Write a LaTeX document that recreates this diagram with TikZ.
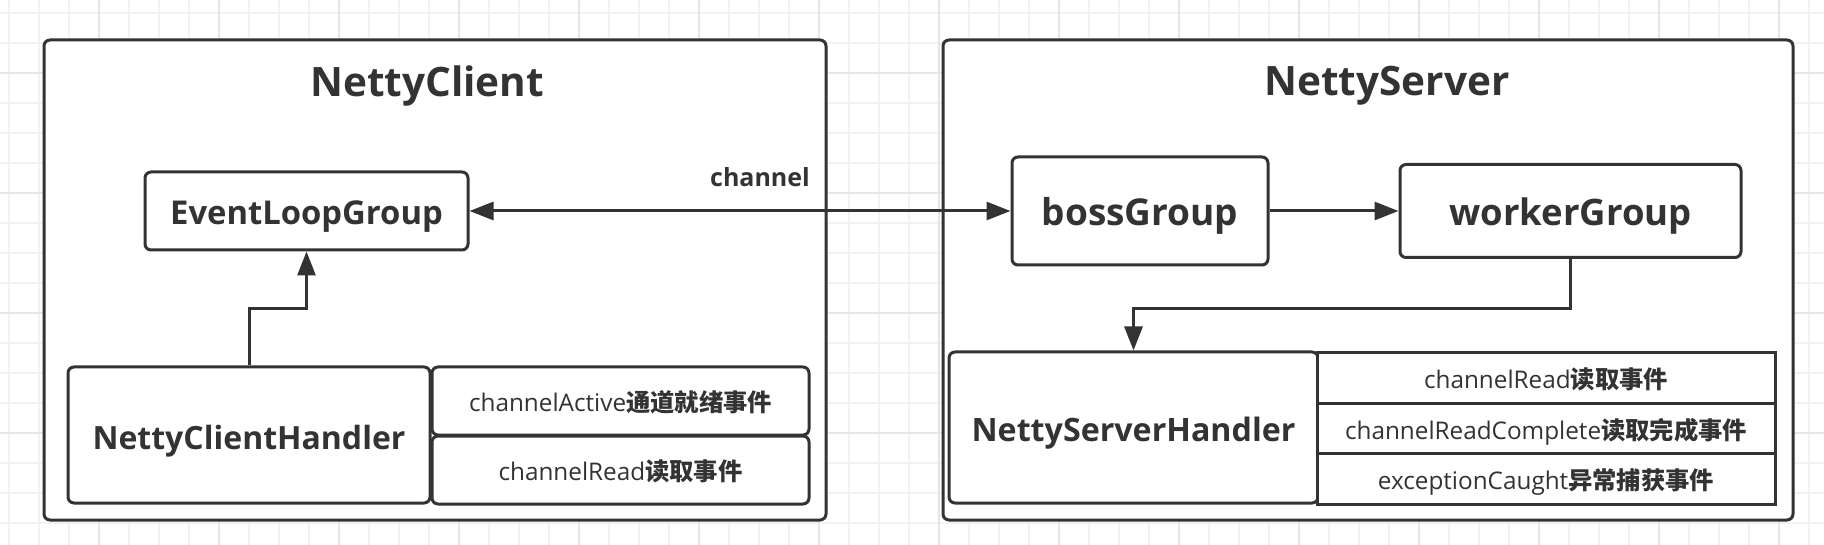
\documentclass[tikz,border=0pt]{standalone}
\usepackage{fontspec}
\setmainfont{Open Sans}
\newfontfamily\cjk{Noto Sans CJK SC}
\usetikzlibrary{arrows.meta}
\definecolor{ink}{HTML}{333333}
\definecolor{gridminor}{HTML}{F2F2F2}
\definecolor{gridmajor}{HTML}{E6E6E6}
\tikzset{
	container/.style={draw=ink, line width=3pt, rounded corners=6pt, fill=white, inner sep=0pt},
	title/.style={text=ink, font=\bfseries\fontsize{40.5}{48}\selectfont},
	groupbox/.style={draw=ink, line width=3pt, rounded corners=6pt, fill=white, inner sep=0pt, text=ink, text height=28pt, text depth=0pt},
	itembox/.style={draw=ink, line width=3pt, fill=white, inner sep=0pt, text=ink, font=\fontsize{24.3}{29}\selectfont, text height=21pt, text depth=0pt},
	flow/.style={draw=ink, line width=3pt, -{Triangle[length=24pt,width=18pt]}},
}

\begin{document}
\begin{tikzpicture}[x=1pt, y=-1pt]
	\useasboundingbox (0,0) rectangle (1824,545);
	\fill[white] (0,0) rectangle (1824,545);
	% background grid
	\foreach \gx in {9,39,...,1824} \draw[gridminor, line width=2pt] (\gx,0) -- (\gx,545);
	\foreach \gy in {12.7,42.7,...,545} \draw[gridminor, line width=2pt] (0,\gy) -- (1824,\gy);
	\foreach \gx in {99,219,...,1824} \draw[gridmajor, line width=2pt] (\gx,0) -- (\gx,545);
	\foreach \gy in {72.7,192.7,...,545} \draw[gridmajor, line width=2pt] (0,\gy) -- (1824,\gy);

	% containers
	\node[container, minimum width=782pt, minimum height=480pt] (client) at (435,280) {};
	\node[container, minimum width=850pt, minimum height=480pt] (server) at (1368,280) {};
	\node[title] (clienttitle) at (427,86) {NettyClient};
	\node[title] (servertitle) at (1387,86) {NettyServer};

	% client side
	\node[groupbox, minimum width=323pt, minimum height=78pt, font=\bfseries\fontsize{32.8}{39}\selectfont] (elg) at (306.5,211) {EventLoopGroup};
	\node[groupbox, minimum width=362pt, minimum height=136pt, font=\bfseries\fontsize{32}{38}\selectfont] (clienthandler) at (249,435) {NettyClientHandler};
	\node[itembox, rounded corners=6pt, minimum width=377pt, minimum height=68pt] (active) at (620.5,401) {channelActive{\cjk\bfseries 通道就绪事件}};
	\node[itembox, rounded corners=6pt, minimum width=377pt, minimum height=68pt] (clientread) at (620.5,470) {channelRead{\cjk\bfseries 读取事件}};

	% server side
	\node[groupbox, minimum width=256pt, minimum height=108pt, text height=29pt, font=\bfseries\fontsize{37}{44}\selectfont] (boss) at (1140,211) {bossGroup};
	\node[groupbox, minimum width=341pt, minimum height=93pt, text height=29pt, font=\bfseries\fontsize{36.5}{44}\selectfont] (worker) at (1570.5,211) {workerGroup};
	\node[groupbox, minimum width=369pt, minimum height=151pt, font=\bfseries\fontsize{32.2}{38}\selectfont] (serverhandler) at (1133.5,427.5) {NettyServerHandler};
	\node[itembox, minimum width=458pt, minimum height=50pt] (serverread) at (1546,378) {channelRead{\cjk\bfseries 读取事件}};
	\node[itembox, minimum width=458pt, minimum height=50pt] (complete) at (1546,428.5) {channelReadComplete{\cjk\bfseries 读取完成事件}};
	\node[itembox, minimum width=458pt, minimum height=51pt] (caught) at (1546,479) {exceptionCaught{\cjk\bfseries 异常捕获事件}};

	\node[text=ink, font=\bfseries\fontsize{25}{30}\selectfont] (channellabel) at (760,177) {channel};

	\path
	(elg) edge[flow, {Triangle[length=24pt,width=18pt]}-{Triangle[length=24pt,width=18pt]}] (boss)
	(boss) edge[flow] (worker)
	;
	\draw[flow] (clienthandler.north) -- ++(0,-57) -| (elg.south);
	\draw[flow] (worker.south) -- ++(0,50) -| (serverhandler.north);
\end{tikzpicture}
\end{document}
